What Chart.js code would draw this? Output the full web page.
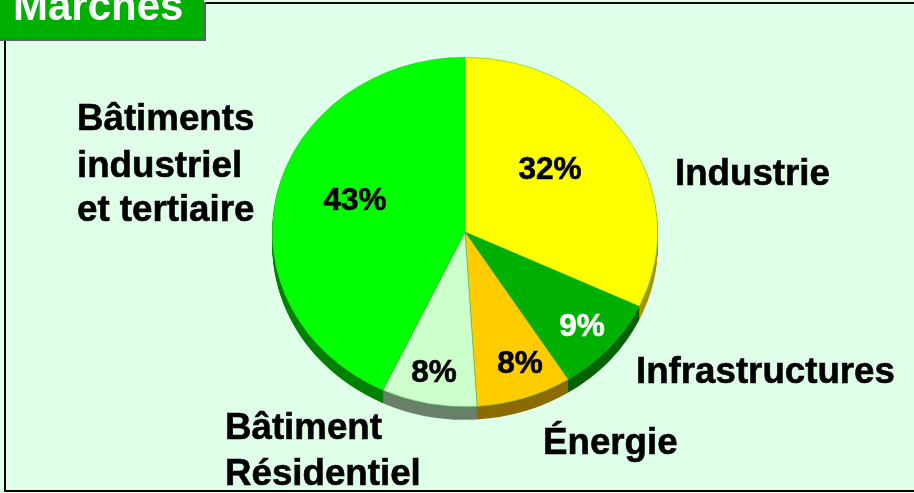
<!DOCTYPE html>
<html lang="fr">
<head>
<meta charset="utf-8">
<title>Marchés</title>
<script src="https://cdn.jsdelivr.net/npm/chart.js@4"></script>
<style>
    html, body { margin: 0; padding: 0; background: #E0FFE8; overflow: hidden; }
    canvas { display: block; }
</style>
</head>
<body>
<canvas id="marchesChart" width="914" height="493"></canvas>
<script>
// Données du graphique
const titre = "Marchés";
const categories = ["Industrie", "Infrastructures", "Énergie", "Bâtiment Résidentiel", "Bâtiments industriel et tertiaire"];
const valeurs = [32, 9, 8, 8, 43];
const pourcentages = ["32%", "9%", "8%", "8%", "43%"];
const couleurs = ["#FFFF00", "#00B000", "#FFCC00", "#CCFFCC", "#00FF00"];
const couleursCote = ["#A89400", "#006400", "#8C6C00", "#688068", "#008000"];
const couleursTexte = ["#000000", "#FFFFFF", "#000000", "#000000", "#000000"];

// Mise en page des textes
const posPourcentages = [[550, 179], [582, 336], [520, 373], [434, 382], [355, 210]];
const etiquettes = [
    ["Industrie", 675, 185],
    ["Infrastructures", 636, 383],
    ["Énergie", 543, 454],
    ["Bâtiment", 225, 439],
    ["Résidentiel", 225, 485],
    ["Bâtiments", 77, 130],
    ["industriel", 77, 177],
    ["et tertiaire", 77, 221]
];
const ECRASEMENT = 175 / 193; // le camembert est une ellipse
const EPAISSEUR = 13;
const POLICE = '"Liberation Sans", Arial, sans-serif';

// Fond, cadre et titre
const fondPlugin = {
    id: "fond",
    beforeDraw(chart) {
        const ctx = chart.ctx;
        ctx.save();
        ctx.fillStyle = "#E0FFE8";
        ctx.fillRect(0, 0, 914, 493);
        ctx.strokeStyle = "#000000";
        ctx.lineWidth = 2;
        ctx.beginPath();
        ctx.moveTo(5, 40);
        ctx.lineTo(5, 491);
        ctx.lineTo(914, 491);
        ctx.moveTo(205, 3);
        ctx.lineTo(914, 3);
        ctx.stroke();
        ctx.fillStyle = "#606060";
        ctx.fillRect(0, 2, 206, 39);
        ctx.fillStyle = "#00B000";
        ctx.fillRect(0, 0, 204, 39);
        ctx.fillStyle = "#FFFFFF";
        ctx.font = "bold 42px " + POLICE;
        ctx.textBaseline = "alphabetic";
        ctx.fillText(titre, 13, 20);
        ctx.restore();
    }
};

// Effet 3D : les côtés puis le dessus aplati
const reliefPlugin = {
    id: "relief",
    beforeDatasetDraw(chart, args) {
        const ctx = chart.ctx;
        const arcs = args.meta.data;
        const cx = arcs[0].x;
        const cy = arcs[0].y;
        ctx.save();
        for (let d = EPAISSEUR; d >= 1; d--) {
            arcs.forEach((arc, i) => {
                ctx.save();
                ctx.translate(cx, cy + d);
                ctx.scale(1, ECRASEMENT);
                ctx.fillStyle = couleursCote[i];
                ctx.beginPath();
                ctx.moveTo(0, 0);
                ctx.arc(0, 0, arc.outerRadius, arc.startAngle, arc.endAngle);
                ctx.closePath();
                ctx.fill();
                ctx.restore();
            });
        }
        ctx.translate(cx, cy);
        ctx.scale(1, ECRASEMENT);
        ctx.translate(-cx, -cy);
    },
    afterDatasetDraw(chart) {
        chart.ctx.restore();
    }
};

// Textes
const textesPlugin = {
    id: "textes",
    afterDraw(chart) {
        const ctx = chart.ctx;
        ctx.save();
        ctx.textBaseline = "alphabetic";
        ctx.fillStyle = "#000000";
        ctx.strokeStyle = "#000000";
        ctx.lineWidth = 0.6;
        ctx.textAlign = "left";
        ctx.font = "bold 36.7px " + POLICE;
        etiquettes.forEach(e => {
            ctx.fillText(e[0], e[1], e[2]);
            ctx.strokeText(e[0], e[1], e[2]);
        });
        ctx.textAlign = "center";
        ctx.font = "bold 31.5px " + POLICE;
        pourcentages.forEach((p, i) => {
            ctx.fillStyle = couleursTexte[i];
            ctx.strokeStyle = couleursTexte[i];
            ctx.fillText(p, posPourcentages[i][0], posPourcentages[i][1]);
            ctx.strokeText(p, posPourcentages[i][0], posPourcentages[i][1]);
        });
        ctx.restore();
    }
};

new Chart(document.getElementById("marchesChart"), {
    type: "pie",
    data: {
        labels: categories,
        datasets: [{
            data: valeurs,
            backgroundColor: couleurs,
            borderColor: "#40B040",
            borderWidth: 0.5,
            clip: false
        }]
    },
    options: {
        responsive: false,
        animation: false,
        layout: { padding: { left: 272, right: 256, top: 39, bottom: 68 } },
        plugins: {
            legend: { display: false },
            tooltip: { enabled: false }
        }
    },
    plugins: [fondPlugin, reliefPlugin, textesPlugin]
});
</script>
</body>
</html>
